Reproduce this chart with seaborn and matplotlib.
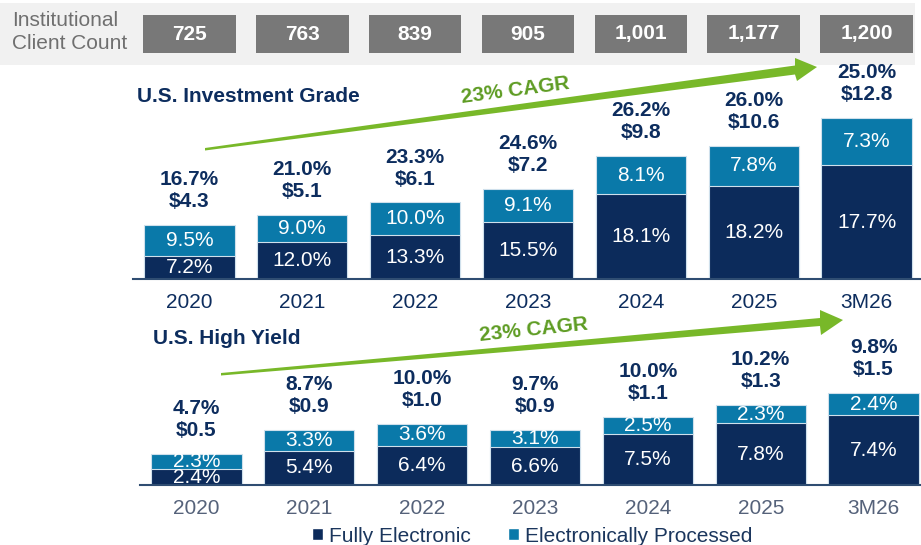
import matplotlib.pyplot as plt
import matplotlib.transforms as mtransforms
import numpy as np
import pandas as pd
import seaborn as sns
from matplotlib.patches import Patch, Polygon, Rectangle


YEARS = ["2020", "2021", "2022", "2023", "2024", "2025", "3M26"]
CLIENT_COUNT = ["725", "763", "839", "905", "1,001", "1,177", "1,200"]

IG_VOLUME = [4.3, 5.1, 6.1, 7.2, 9.8, 10.6, 12.8]
IG_SHARE = [16.7, 21.0, 23.3, 24.6, 26.2, 26.0, 25.0]
IG_FULLY = [7.2, 12.0, 13.3, 15.5, 18.1, 18.2, 17.7]
IG_PROCESSED = [9.5, 9.0, 10.0, 9.1, 8.1, 7.8, 7.3]

HY_VOLUME = [0.5, 0.9, 1.0, 0.9, 1.1, 1.3, 1.5]
HY_SHARE = [4.7, 8.7, 10.0, 9.7, 10.0, 10.2, 9.8]
HY_FULLY = [2.4, 5.4, 6.4, 6.6, 7.5, 7.8, 7.4]
HY_PROCESSED = [2.3, 3.3, 3.6, 3.1, 2.5, 2.3, 2.4]

DARK = "#0c2b5b"
LIGHT = "#0a79a9"
NAVY = "#0d2d5e"
GREEN = "#78b829"
GREEN_TEXT = "#5e9c23"

W, H = 921, 545


def fx(x):
    return x / W


def fy(y):
    return 1 - y / H


def build_frame(volume, share, fully, processed):
    df = pd.DataFrame({
        "year": YEARS,
        "volume": volume,
        "share": share,
        "fully": fully,
        "processed": processed,
    })
    # bar height is the $ volume, split by the share of each segment
    df["fully_amt"] = df["volume"] * df["fully"] / (df["fully"] + df["processed"])
    return df


def draw_panel(ax, df, ymax, year_color):
    sns.barplot(data=df, x="year", y="volume", color=LIGHT, saturation=1,
                width=0.8, edgecolor="#cfe0ec", linewidth=0.8, ax=ax)
    sns.barplot(data=df, x="year", y="fully_amt", color=DARK, saturation=1,
                width=0.8, edgecolor="#cfe0ec", linewidth=0.8, ax=ax)

    for i, row in df.iterrows():
        ax.text(i, row["fully_amt"] / 2, f"{row['fully']:.1f}%", ha="center",
                va="center", color="white", fontsize=15)
        ax.text(i, (row["fully_amt"] + row["volume"]) / 2, f"{row['processed']:.1f}%",
                ha="center", va="center", color="white", fontsize=15)
        ax.annotate(f"{row['share']:.1f}%\n${row['volume']:.1f}", (i, row["volume"]),
                    xytext=(0, 10), textcoords="offset points", ha="center",
                    va="bottom", color=NAVY, fontsize=15, fontweight="bold",
                    linespacing=1.2)

    ax.set_xlim(-0.5, 6.5)
    ax.set_ylim(0, ymax)
    ax.set_xlabel("")
    ax.set_ylabel("")
    ax.set_yticks([])
    ax.set_facecolor("none")
    for side in ["left", "top", "right"]:
        ax.spines[side].set_visible(False)
    ax.spines["bottom"].set_color("#2f4d72")
    ax.spines["bottom"].set_linewidth(1.5)
    ax.set_xticks(range(len(YEARS)))
    ax.set_xticklabels(YEARS, fontsize=15, color=year_color)
    ax.set_xticks(np.arange(-0.5, 7, 1), minor=True)
    ax.tick_params(axis="x", which="major", length=0, pad=10)
    ax.tick_params(axis="x", which="minor", length=4, width=1.5,
                   color="#2f4d72", direction="out")


def draw_arrow(fig, pts):
    poly = Polygon([(fx(x), fy(y)) for x, y in pts], closed=True,
                   transform=fig.transFigure, facecolor=GREEN, edgecolor="none")
    fig.add_artist(poly)


def main():
    sns.set_style("white")
    plt.rcParams["font.family"] = ["Liberation Sans", "DejaVu Sans"]

    fig = plt.figure(figsize=(W / 100, H / 100), dpi=100)

    # grey band with client counts
    fig.add_artist(Rectangle((0, fy(65)), fx(915), 62 / H, transform=fig.transFigure,
                             facecolor="#f1f1f1", edgecolor="none", zorder=-1))
    fig.text(fx(12), fy(21), "Institutional", fontsize=15, color="#6f6f6f", va="center")
    fig.text(fx(12), fy(43), "Client Count", fontsize=15, color="#6f6f6f", va="center")

    ax_top = fig.add_axes([fx(133), fy(279), 790 / W, 14 * 12.55 / H])
    ax_bot = fig.add_axes([fx(140), fy(485), 790 / W, 1.6 * 61.5 / H])

    ig = build_frame(IG_VOLUME, IG_SHARE, IG_FULLY, IG_PROCESSED)
    hy = build_frame(HY_VOLUME, HY_SHARE, HY_FULLY, HY_PROCESSED)
    draw_panel(ax_top, ig, 14, NAVY)
    draw_panel(ax_bot, hy, 1.6, "#55627a")

    blend = mtransforms.blended_transform_factory(ax_top.transData, fig.transFigure)
    for i, count in enumerate(CLIENT_COUNT):
        fig.add_artist(Rectangle((i - 0.41, fy(53)), 0.82, 38 / H, transform=blend,
                                 facecolor="#787878", edgecolor="none"))
        fig.text(i, fy(34), count, transform=blend, ha="center", va="center",
                 color="white", fontsize=15, fontweight="bold")

    fig.text(fx(137), fy(97), "U.S. Investment Grade", fontsize=15, fontweight="bold",
             color=NAVY, va="center")
    fig.text(fx(153), fy(338), "U.S. High Yield", fontsize=15, fontweight="bold",
             color=NAVY, va="center")

    # CAGR arrows
    draw_arrow(fig, [(205, 148), (795, 65.5), (795, 58), (817, 67),
                     (797, 81), (795, 74.5), (205, 150.5)])
    draw_arrow(fig, [(221, 373), (820, 318), (820, 310), (843, 320),
                     (821, 335), (820, 326), (221, 375.5)])
    fig.text(fx(515), fy(90), "23% CAGR", fontsize=15, fontweight="bold",
             color=GREEN_TEXT, ha="center", va="center", rotation=7.5)
    fig.text(fx(534), fy(330), "23% CAGR", fontsize=15, fontweight="bold",
             color=GREEN_TEXT, ha="center", va="center", rotation=6)

    handles = [Patch(facecolor=DARK), Patch(facecolor=LIGHT)]
    fig.legend(handles, ["Fully Electronic", "Electronically Processed"],
               loc="center", bbox_to_anchor=(fx(532), fy(536)), ncol=2,
               frameon=False, fontsize=15, labelcolor="#1b365d",
               handlelength=0.55, handleheight=0.55, handletextpad=0.25,
               columnspacing=1.8, borderpad=0, borderaxespad=0)

    fig.savefig("out.png", dpi=100)
    plt.close(fig)


if __name__ == "__main__":
    main()
